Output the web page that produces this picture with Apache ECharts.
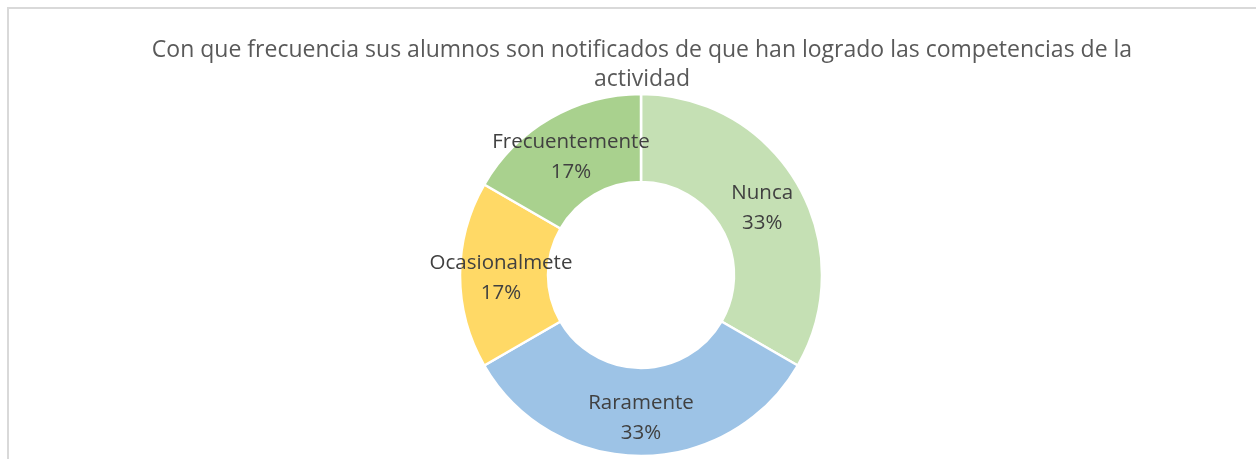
<!DOCTYPE html>
<html>
<head>
<meta charset="utf-8">
<script src="https://cdn.jsdelivr.net/npm/echarts@6/dist/echarts.min.js"></script>
<style>
  html, body { margin: 0; padding: 0; overflow: hidden; background: #fff; }
  #frame { position: absolute; left: 7px; top: 7px; width: 1400px; height: 600px; border: 2px solid #d9d9d9; }
  #chart { position: absolute; left: 0; top: 0; width: 1256px; height: 459px; }
</style>
</head>
<body>
<div id="frame"></div>
<div id="chart"></div>
<script>
const categories = ['Nunca', 'Raramente', 'Ocasionalmete', 'Frecuentemente']
const values = [2, 2, 1, 1]
const colors = ['#C5E0B4', '#9DC3E6', '#FFD966', '#A9D18E']

const myChart = echarts.init(document.getElementById('chart'))

const option = {
  title: {
    text: 'Con que frecuencia sus alumnos son notificados de que han logrado las competencias de la\nactividad',
    left: 637,
    top: 31,
    textAlign: 'center',
    textStyle: {
      fontFamily: 'Open Sans',
      fontSize: 23,
      fontWeight: 'normal',
      color: '#595959',
      lineHeight: 29
    }
  },
  series: [
    {
      type: 'pie',
      center: [641, 275],
      radius: [93, 181],
      startAngle: 90,
      clockwise: true,
      percentPrecision: 0,
      itemStyle: {
        borderColor: '#fff',
        borderWidth: 2.5
      },
      label: {
        position: 'inside',
        formatter: '{b}\n{d}%',
        fontFamily: 'Open Sans',
        fontSize: 20.5,
        lineHeight: 30,
        color: '#404040',
        offset: [0, 3]
      },
      labelLine: { show: false },
      emphasis: { disabled: true },
      data: categories.map((name, i) => ({
        name: name,
        value: values[i],
        itemStyle: { color: colors[i] }
      }))
    }
  ]
}

myChart.setOption(option)
</script>
</body>
</html>
